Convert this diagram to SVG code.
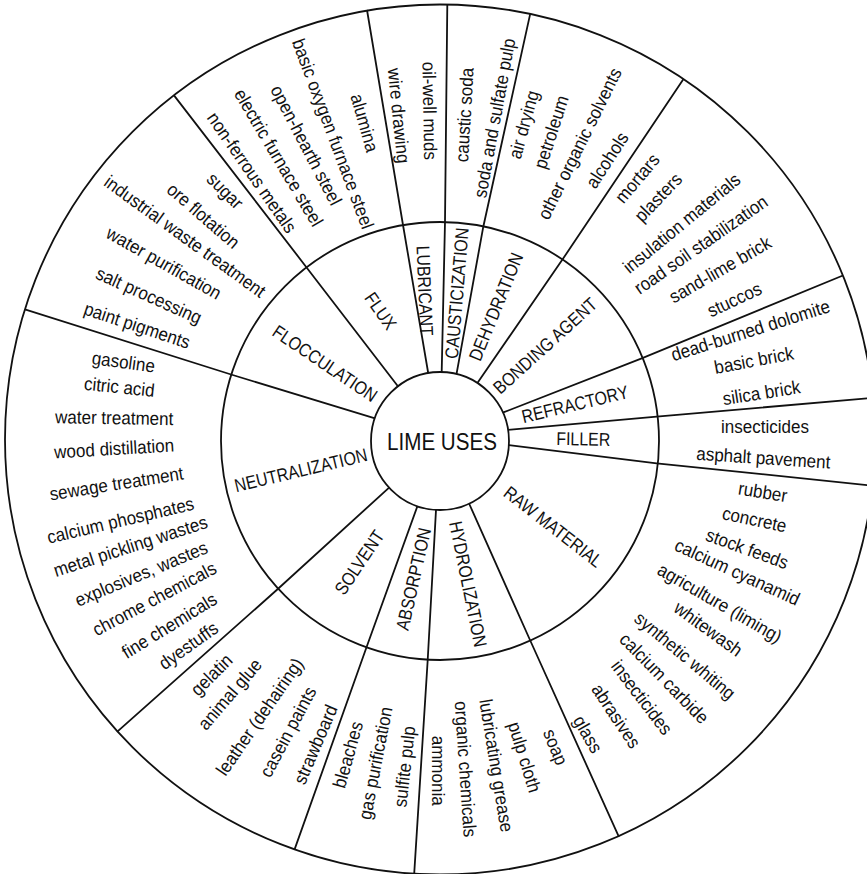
<svg xmlns="http://www.w3.org/2000/svg" width="867" height="874" viewBox="0 0 867 874">
<style>
.ln{fill:none;stroke:#111;stroke-width:1.8;stroke-linejoin:round}
text{font-family:"Liberation Sans",Arial,sans-serif;fill:#111;text-anchor:middle}
.o{font-size:18.5px}
.m{font-size:18.5px}
.c{font-size:23.5px}
</style>
<rect width="867" height="874" fill="#fff"/>
<g id="rings">
<circle class="ln" cx="440" cy="439.5" r="435"/>
<circle class="ln" cx="440" cy="441" r="219"/>
</g>
<g id="connectors">
<polyline class="ln" points="428.2,373 403,225 367,10"/>
<polyline class="ln" points="441.7,372 445,222 447.3,5"/>
<polyline class="ln" points="456.5,374.2 483.3,226.7 530.2,13.9"/>
<polyline class="ln" points="477.4,383 563.3,258.3 683.5,79.1"/>
<polyline class="ln" points="502.7,412.7 641.7,358.3 842.9,275.5"/>
<polyline class="ln" points="508.1,429.8 656.7,416.7 873,397.8"/>
<polyline class="ln" points="508.9,445.1 656.7,463.3 872.5,485.6"/>
<polyline class="ln" points="469.3,504 530,640 618.8,836.6"/>
<polyline class="ln" points="436,510 427.7,660 414.2,873.7"/>
<polyline class="ln" points="417.4,506.2 366.7,646.7 294.6,849.4"/>
<polyline class="ln" points="389.1,487.6 276.7,590 117.3,731.7"/>
<polyline class="ln" points="375,418.3 232.7,375 24.9,309.4"/>
<polyline class="ln" points="398.3,386.7 306,266.7 174,95.4"/>
</g>
<g id="center">
<circle class="ln" cx="440" cy="441" r="69"/>
<text class="c" transform="translate(442 441.5) scale(0.877 1)" y="8.4">LIME USES</text>
</g>
<g id="lubricant">
<text class="m" transform="translate(425 290.7) rotate(87.6) scale(0.86 1)" y="6.6">LUBRICANT</text>
<text class="o" transform="translate(428.3 110.8) rotate(89) scale(0.92 1)" y="5">oil-well muds</text>
<text class="o" transform="translate(397.5 115.8) rotate(84.2) scale(0.92 1)" y="5">wire drawing</text>
</g>
<g id="causticization">
<text class="m" transform="translate(456.7 293.3) rotate(-85.2) scale(0.86 1)" y="6.6">CAUSTICIZATION</text>
<text class="o" transform="translate(465.8 115) rotate(-86.6) scale(0.92 1)" y="5">caustic soda</text>
<text class="o" transform="translate(495.8 118.3) rotate(-79.5) scale(0.92 1)" y="5">soda and sulfate pulp</text>
</g>
<g id="dehydration">
<text class="m" transform="translate(495.8 306.7) rotate(-67.7) scale(0.86 1)" y="6.6">DEHYDRATION</text>
<text class="o" transform="translate(525 125) rotate(-74.5) scale(0.92 1)" y="5">air drying</text>
<text class="o" transform="translate(552.5 132.5) rotate(-72) scale(0.92 1)" y="5">petroleum</text>
<text class="o" transform="translate(580.8 144.2) rotate(-63.7) scale(0.92 1)" y="5">other organic solvents</text>
<text class="o" transform="translate(608.3 160.8) rotate(-57) scale(0.92 1)" y="5">alcohols</text>
</g>
<g id="bonding-agent">
<text class="m" transform="translate(545 345.7) rotate(-42.2) scale(0.86 1)" y="6.6">BONDING AGENT</text>
<text class="o" transform="translate(638.3 179.2) rotate(-50) scale(0.92 1)" y="5">mortars</text>
<text class="o" transform="translate(659.2 198.3) rotate(-46.3) scale(0.92 1)" y="5">plasters</text>
<text class="o" transform="translate(682.5 224.2) rotate(-39.4) scale(0.92 1)" y="5">insulation materials</text>
<text class="o" transform="translate(701.7 245.8) rotate(-34.9) scale(0.92 1)" y="5">road soil stabilization</text>
<text class="o" transform="translate(720.8 270.8) rotate(-30.1) scale(0.92 1)" y="5">sand-lime brick</text>
<text class="o" transform="translate(735 300.8) rotate(-24.9) scale(0.92 1)" y="5">stuccos</text>
</g>
<g id="refractory">
<text class="m" transform="translate(575 404) rotate(-13.5) scale(0.86 1)" y="6.6">REFRACTORY</text>
<text class="o" transform="translate(750.8 331.7) rotate(-17.5) scale(0.92 1)" y="5">dead-burned dolomite</text>
<text class="o" transform="translate(754.2 361.7) rotate(-10.5) scale(0.92 1)" y="5">basic brick</text>
<text class="o" transform="translate(761.7 394.2) rotate(-9) scale(0.92 1)" y="5">silica brick</text>
</g>
<g id="filler">
<text class="m" transform="translate(583.3 438.8) rotate(1) scale(0.86 1)" y="6.6">FILLER</text>
<text class="o" transform="translate(765 428.3) rotate(0) scale(0.92 1)" y="5">insecticides</text>
<text class="o" transform="translate(763.3 459.2) rotate(3.8) scale(0.92 1)" y="5">asphalt pavement</text>
</g>
<g id="raw-material">
<text class="m" transform="translate(553.3 526.7) rotate(37.9) scale(0.86 1)" y="6.6">RAW MATERIAL</text>
<text class="o" transform="translate(762.5 493.3) rotate(9.1) scale(0.92 1)" y="5">rubber</text>
<text class="o" transform="translate(754.2 520.8) rotate(12) scale(0.92 1)" y="5">concrete</text>
<text class="o" transform="translate(746.7 550) rotate(20) scale(0.92 1)" y="5">stock feeds</text>
<text class="o" transform="translate(736.7 573.3) rotate(24.6) scale(0.92 1)" y="5">calcium cyanamid</text>
<text class="o" transform="translate(719.2 604.2) rotate(30) scale(0.92 1)" y="5">agriculture (liming)</text>
<text class="o" transform="translate(707.5 630) rotate(36) scale(0.92 1)" y="5">whitewash</text>
<text class="o" transform="translate(684.2 656.7) rotate(39.9) scale(0.92 1)" y="5">synthetic whiting</text>
<text class="o" transform="translate(663.3 679.2) rotate(45.6) scale(0.92 1)" y="5">calcium carbide</text>
<text class="o" transform="translate(640.8 698.3) rotate(52.7) scale(0.92 1)" y="5">insecticides</text>
<text class="o" transform="translate(615 716.7) rotate(56.3) scale(0.92 1)" y="5">abrasives</text>
<text class="o" transform="translate(586.7 735) rotate(60.3) scale(0.92 1)" y="5">glass</text>
</g>
<g id="hydrolization">
<text class="m" transform="translate(468.3 584) rotate(78.5) scale(0.86 1)" y="6.6">HYDROLIZATION</text>
<text class="o" transform="translate(554.2 747.5) rotate(68) scale(0.92 1)" y="5">soap</text>
<text class="o" transform="translate(523.3 757.5) rotate(72.9) scale(0.92 1)" y="5">pulp cloth</text>
<text class="o" transform="translate(495 765.8) rotate(80.7) scale(0.92 1)" y="5">lubricating grease</text>
<text class="o" transform="translate(464.2 769.2) rotate(86.2) scale(0.92 1)" y="5">organic chemicals</text>
<text class="o" transform="translate(436.7 770.7) rotate(90) scale(0.92 1)" y="5">ammonia</text>
</g>
<g id="absorption">
<text class="m" transform="translate(413.3 579) rotate(-77.2) scale(0.86 1)" y="6.6">ABSORPTION</text>
<text class="o" transform="translate(349.2 755) rotate(-74.3) scale(0.92 1)" y="5">bleaches</text>
<text class="o" transform="translate(376.7 763.3) rotate(-79) scale(0.92 1)" y="5">gas purification</text>
<text class="o" transform="translate(405.8 766.7) rotate(-83.5) scale(0.92 1)" y="5">sulfite pulp</text>
</g>
<g id="solvent">
<text class="m" transform="translate(359.2 562.3) rotate(-55.9) scale(0.86 1)" y="6.6">SOLVENT</text>
<text class="o" transform="translate(212.5 675.8) rotate(-45) scale(0.92 1)" y="5">gelatin</text>
<text class="o" transform="translate(230.8 695) rotate(-49.3) scale(0.92 1)" y="5">animal glue</text>
<text class="o" transform="translate(260.8 717.5) rotate(-55.3) scale(0.92 1)" y="5">leather (dehairing)</text>
<text class="o" transform="translate(289.2 732.5) rotate(-62) scale(0.92 1)" y="5">casein paints</text>
<text class="o" transform="translate(316.7 745) rotate(-66.8) scale(0.92 1)" y="5">strawboard</text>
</g>
<g id="neutralization">
<text class="m" transform="translate(300.8 470) rotate(-13.5) scale(0.86 1)" y="6.6">NEUTRALIZATION</text>
<text class="o" transform="translate(123.3 363.3) rotate(7.6) scale(0.92 1)" y="5">gasoline</text>
<text class="o" transform="translate(119.2 388.3) rotate(5.9) scale(0.92 1)" y="5">citric acid</text>
<text class="o" transform="translate(114.2 419.2) rotate(0.9) scale(0.92 1)" y="5">water treatment</text>
<text class="o" transform="translate(114.2 450) rotate(-3.4) scale(0.92 1)" y="5">wood distillation</text>
<text class="o" transform="translate(116.7 485) rotate(-9) scale(0.92 1)" y="5">sewage treatment</text>
<text class="o" transform="translate(120.8 521.7) rotate(-13.2) scale(0.92 1)" y="5">calcium phosphates</text>
<text class="o" transform="translate(130.8 547.5) rotate(-18) scale(0.92 1)" y="5">metal pickling wastes</text>
<text class="o" transform="translate(141.7 575) rotate(-22.6) scale(0.92 1)" y="5">explosives, wastes</text>
<text class="o" transform="translate(155 600) rotate(-27.9) scale(0.92 1)" y="5">chrome chemicals</text>
<text class="o" transform="translate(170 626.7) rotate(-31.6) scale(0.92 1)" y="5">fine chemicals</text>
<text class="o" transform="translate(189.2 646.7) rotate(-35.4) scale(0.92 1)" y="5">dyestuffs</text>
</g>
<g id="flocculation">
<text class="m" transform="translate(325 363.3) rotate(34) scale(0.86 1)" y="6.6">FLOCCULATION</text>
<text class="o" transform="translate(224.2 191.7) rotate(45) scale(0.92 1)" y="5">sugar</text>
<text class="o" transform="translate(202.5 216.7) rotate(40.9) scale(0.92 1)" y="5">ore flotation</text>
<text class="o" transform="translate(184.2 237.5) rotate(35.8) scale(0.92 1)" y="5">industrial waste treatment</text>
<text class="o" transform="translate(163.3 264.2) rotate(29.4) scale(0.92 1)" y="5">water purification</text>
<text class="o" transform="translate(148.3 296.7) rotate(24.1) scale(0.92 1)" y="5">salt processing</text>
<text class="o" transform="translate(136.7 326.7) rotate(18.4) scale(0.92 1)" y="5">paint pigments</text>
</g>
<g id="flux">
<text class="m" transform="translate(380.8 310.8) rotate(55) scale(0.86 1)" y="6.6">FLUX</text>
<text class="o" transform="translate(363.3 123.3) rotate(74) scale(0.92 1)" y="5">alumina</text>
<text class="o" transform="translate(331.7 134.2) rotate(69.5) scale(0.92 1)" y="5">basic oxygen furnace steel</text>
<text class="o" transform="translate(305 145.8) rotate(62.4) scale(0.92 1)" y="5">open-hearth steel</text>
<text class="o" transform="translate(277.5 158.3) rotate(59.4) scale(0.92 1)" y="5">electric furnace steel</text>
<text class="o" transform="translate(250.8 173.3) rotate(55.3) scale(0.92 1)" y="5">non-ferrous metals</text>
</g>
</svg>
